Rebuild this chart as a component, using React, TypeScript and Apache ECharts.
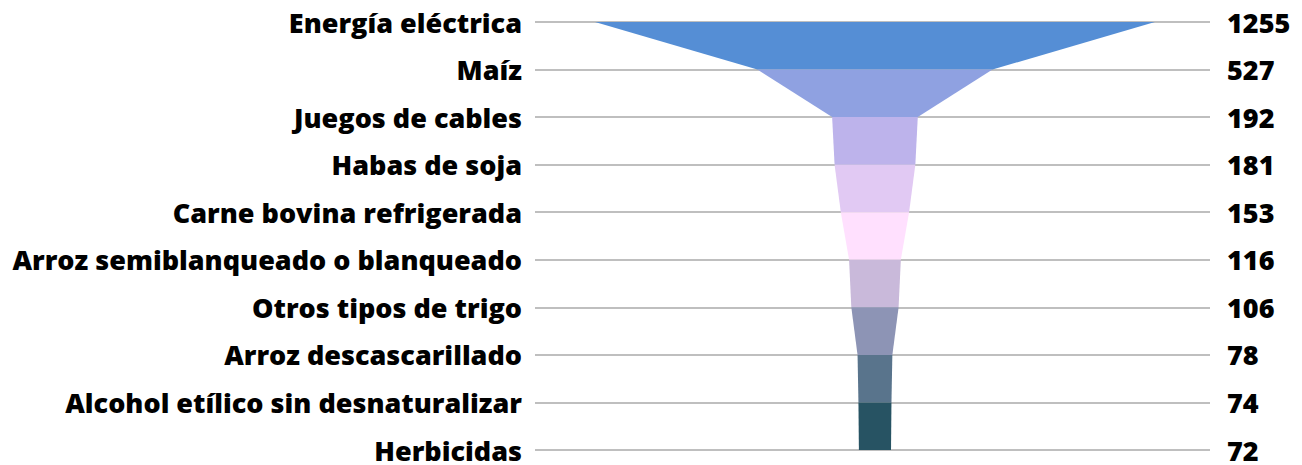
import React, { useEffect, useRef } from "react";
import * as echarts from "echarts";

const categories = [
  "Energía eléctrica",
  "Maíz",
  "Juegos de cables",
  "Habas de soja",
  "Carne bovina refrigerada",
  "Arroz semiblanqueado o blanqueado",
  "Otros tipos de trigo",
  "Arroz descascarillado",
  "Alcohol etílico sin desnaturalizar",
  "Herbicidas",
];
const values = [1255, 527, 192, 181, 153, 116, 106, 78, 74, 72];
const colors = [
  "#558ed5",
  "#8fa1e1",
  "#bdb3eb",
  "#e1c9f3",
  "#ffe0fe",
  "#c9b9da",
  "#8d94b5",
  "#59748c",
  "#275363",
];

export default function App() {
  const ref = useRef<HTMLDivElement>(null);
  useEffect(() => {
    document.body.style.margin = "0";
    const chart = echarts.init(ref.current!, null, { renderer: "svg" });
    const segData = values.slice(0, -1).map((v, i) => [i, v, values[i + 1]]);
    const font = "'Open Sans', sans-serif";
    chart.setOption({
      animation: false,
      grid: { left: 535, right: 92, top: 22, bottom: 15 },
      xAxis: {
        type: "value",
        min: -762,
        max: 751,
        show: false,
      },
      yAxis: [
        {
          type: "category",
          data: categories,
          inverse: true,
          boundaryGap: false,
          position: "left",
          axisLine: { show: false },
          axisTick: { show: false },
          splitLine: { show: true, lineStyle: { color: "#bfbfbf", width: 2 } },
          axisLabel: {
            margin: 13,
            color: "#000",
            fontFamily: font,
            fontWeight: 800,
            fontSize: 27,
            lineHeight: 26,
          },
        },
        {
          type: "category",
          data: values.map(String),
          inverse: true,
          boundaryGap: false,
          position: "right",
          axisLine: { show: false },
          axisTick: { show: false },
          splitLine: { show: false },
          axisLabel: {
            margin: 17,
            color: "#000",
            fontFamily: font,
            fontWeight: 800,
            fontSize: 27,
            lineHeight: 26,
            align: "left",
          },
        },
      ],
      series: [
        {
          type: "custom",
          xAxisIndex: 0,
          yAxisIndex: 0,
          data: segData,
          encode: { x: [1, 2], y: 0 },
          renderItem: (params: any, api: any) => {
            const i = api.value(0);
            const a = api.value(1);
            const b = api.value(2);
            const p1 = api.coord([-a / 2, i]);
            const p2 = api.coord([a / 2, i]);
            const p3 = api.coord([b / 2, i + 1]);
            const p4 = api.coord([-b / 2, i + 1]);
            return {
              type: "polygon",
              shape: { points: [p1, p2, p3, p4] },
              style: { fill: colors[i % colors.length] },
            };
          },
        },
      ],
    });
    return () => chart.dispose();
  }, []);
  return <div ref={ref} style={{ width: 1302, height: 465 }} />;
}
